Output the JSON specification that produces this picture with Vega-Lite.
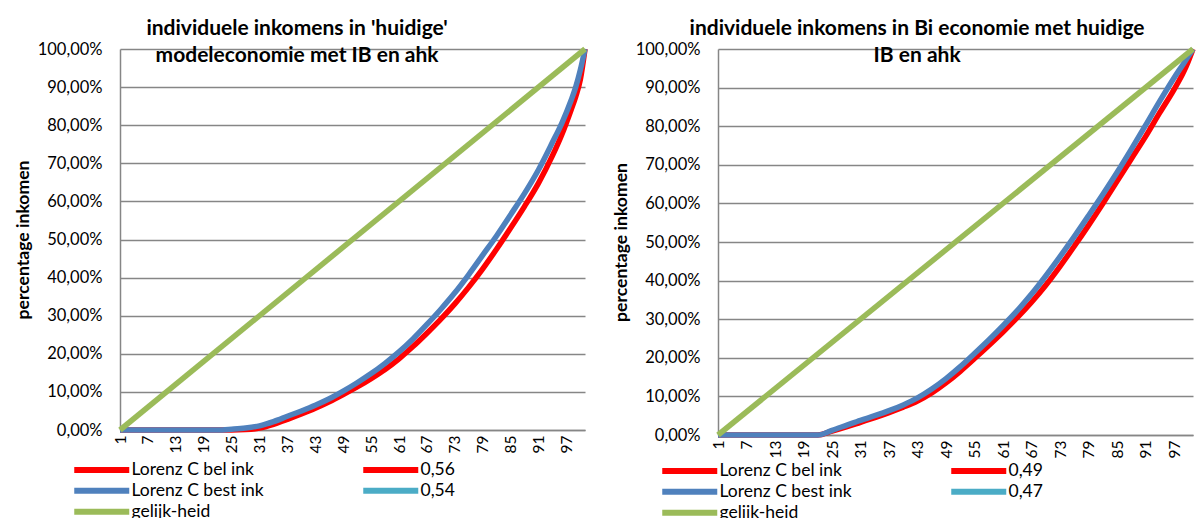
{
  "$schema": "https://vega.github.io/schema/vega-lite/v6.json",
  "padding": {"left": 14, "top": 18, "right": 5, "bottom": 0},
  "background": "#ffffff",
  "config": {
    "locale": {"number": {"decimal": ",", "thousands": ".", "grouping": [3], "currency": ["€ ", ""]}},
    "font": "Lato",
    "view": {"stroke": null},
    "axis": {"labelFont": "Lato", "labelFontSize": 16.5, "labelColor": "#000000", "domainColor": "#868686", "domainWidth": 1.5, "ticks": false, "tickSize": 0, "titleFont": "Lato", "titleFontSize": 17.6, "titleFontWeight": "bold", "titleColor": "#000000"},
    "axisY": {"grid": true, "gridColor": "#868686", "gridWidth": 1.5, "labelPadding": 18, "titlePadding": 5},
    "axisX": {"grid": false, "labelAngle": -90, "labelPadding": 5, "labelFontSize": 15.5},
    "title": {"font": "Lato", "fontSize": 21, "fontWeight": "bold", "color": "#000000", "anchor": "middle", "frame": "bounds", "offset": -28, "lineHeight": 27},
    "legend": {"orient": "none", "columns": 2, "columnPadding": 87, "rowPadding": -4, "symbolType": "M-5,0H5", "symbolSize": 121, "symbolStrokeWidth": 6, "labelFont": "Lato", "labelFontSize": 17.5, "labelColor": "#000000", "labelOffset": 21, "labelLimit": 300}
  },
  "datasets": {
    "links": [
      {"x": 1, "pct": 0, "serie": "Lorenz C bel ink"},
      {"x": 25, "pct": 0, "serie": "Lorenz C bel ink"},
      {"x": 28, "pct": 0.001, "serie": "Lorenz C bel ink"},
      {"x": 31, "pct": 0.005, "serie": "Lorenz C bel ink"},
      {"x": 34, "pct": 0.015, "serie": "Lorenz C bel ink"},
      {"x": 37, "pct": 0.028, "serie": "Lorenz C bel ink"},
      {"x": 40, "pct": 0.042, "serie": "Lorenz C bel ink"},
      {"x": 43, "pct": 0.057, "serie": "Lorenz C bel ink"},
      {"x": 46, "pct": 0.074, "serie": "Lorenz C bel ink"},
      {"x": 49, "pct": 0.093, "serie": "Lorenz C bel ink"},
      {"x": 52, "pct": 0.113, "serie": "Lorenz C bel ink"},
      {"x": 55, "pct": 0.135, "serie": "Lorenz C bel ink"},
      {"x": 58, "pct": 0.159, "serie": "Lorenz C bel ink"},
      {"x": 61, "pct": 0.187, "serie": "Lorenz C bel ink"},
      {"x": 64, "pct": 0.219, "serie": "Lorenz C bel ink"},
      {"x": 67, "pct": 0.254, "serie": "Lorenz C bel ink"},
      {"x": 70, "pct": 0.291, "serie": "Lorenz C bel ink"},
      {"x": 73, "pct": 0.331, "serie": "Lorenz C bel ink"},
      {"x": 76, "pct": 0.375, "serie": "Lorenz C bel ink"},
      {"x": 79, "pct": 0.423, "serie": "Lorenz C bel ink"},
      {"x": 82, "pct": 0.475, "serie": "Lorenz C bel ink"},
      {"x": 85, "pct": 0.53, "serie": "Lorenz C bel ink"},
      {"x": 88, "pct": 0.587, "serie": "Lorenz C bel ink"},
      {"x": 91, "pct": 0.648, "serie": "Lorenz C bel ink"},
      {"x": 94, "pct": 0.72, "serie": "Lorenz C bel ink"},
      {"x": 96, "pct": 0.775, "serie": "Lorenz C bel ink"},
      {"x": 98, "pct": 0.84, "serie": "Lorenz C bel ink"},
      {"x": 99, "pct": 0.875, "serie": "Lorenz C bel ink"},
      {"x": 100, "pct": 0.92, "serie": "Lorenz C bel ink"},
      {"x": 101, "pct": 1, "serie": "Lorenz C bel ink"},
      {"x": 1, "pct": 0, "serie": "Lorenz C best ink"},
      {"x": 22, "pct": 0, "serie": "Lorenz C best ink"},
      {"x": 25, "pct": 0.002, "serie": "Lorenz C best ink"},
      {"x": 28, "pct": 0.005, "serie": "Lorenz C best ink"},
      {"x": 31, "pct": 0.011, "serie": "Lorenz C best ink"},
      {"x": 34, "pct": 0.022, "serie": "Lorenz C best ink"},
      {"x": 37, "pct": 0.036, "serie": "Lorenz C best ink"},
      {"x": 40, "pct": 0.05, "serie": "Lorenz C best ink"},
      {"x": 43, "pct": 0.065, "serie": "Lorenz C best ink"},
      {"x": 46, "pct": 0.082, "serie": "Lorenz C best ink"},
      {"x": 49, "pct": 0.102, "serie": "Lorenz C best ink"},
      {"x": 52, "pct": 0.124, "serie": "Lorenz C best ink"},
      {"x": 55, "pct": 0.148, "serie": "Lorenz C best ink"},
      {"x": 58, "pct": 0.175, "serie": "Lorenz C best ink"},
      {"x": 61, "pct": 0.205, "serie": "Lorenz C best ink"},
      {"x": 64, "pct": 0.239, "serie": "Lorenz C best ink"},
      {"x": 67, "pct": 0.277, "serie": "Lorenz C best ink"},
      {"x": 70, "pct": 0.317, "serie": "Lorenz C best ink"},
      {"x": 73, "pct": 0.36, "serie": "Lorenz C best ink"},
      {"x": 76, "pct": 0.408, "serie": "Lorenz C best ink"},
      {"x": 79, "pct": 0.459, "serie": "Lorenz C best ink"},
      {"x": 82, "pct": 0.51, "serie": "Lorenz C best ink"},
      {"x": 85, "pct": 0.565, "serie": "Lorenz C best ink"},
      {"x": 88, "pct": 0.621, "serie": "Lorenz C best ink"},
      {"x": 91, "pct": 0.683, "serie": "Lorenz C best ink"},
      {"x": 94, "pct": 0.755, "serie": "Lorenz C best ink"},
      {"x": 96, "pct": 0.805, "serie": "Lorenz C best ink"},
      {"x": 98, "pct": 0.865, "serie": "Lorenz C best ink"},
      {"x": 99, "pct": 0.9, "serie": "Lorenz C best ink"},
      {"x": 100, "pct": 0.945, "serie": "Lorenz C best ink"},
      {"x": 101, "pct": 1, "serie": "Lorenz C best ink"},
      {"x": 1, "pct": 0, "serie": "gelijk-heid"},
      {"x": 101, "pct": 1, "serie": "gelijk-heid"}
    ],
    "rechts": [
      {"x": 1, "pct": 0, "serie": "Lorenz C bel ink"},
      {"x": 22, "pct": 0, "serie": "Lorenz C bel ink"},
      {"x": 25, "pct": 0.01, "serie": "Lorenz C bel ink"},
      {"x": 28, "pct": 0.021, "serie": "Lorenz C bel ink"},
      {"x": 31, "pct": 0.033, "serie": "Lorenz C bel ink"},
      {"x": 34, "pct": 0.045, "serie": "Lorenz C bel ink"},
      {"x": 37, "pct": 0.058, "serie": "Lorenz C bel ink"},
      {"x": 40, "pct": 0.072, "serie": "Lorenz C bel ink"},
      {"x": 43, "pct": 0.088, "serie": "Lorenz C bel ink"},
      {"x": 46, "pct": 0.109, "serie": "Lorenz C bel ink"},
      {"x": 49, "pct": 0.135, "serie": "Lorenz C bel ink"},
      {"x": 52, "pct": 0.165, "serie": "Lorenz C bel ink"},
      {"x": 55, "pct": 0.198, "serie": "Lorenz C bel ink"},
      {"x": 58, "pct": 0.232, "serie": "Lorenz C bel ink"},
      {"x": 61, "pct": 0.267, "serie": "Lorenz C bel ink"},
      {"x": 64, "pct": 0.304, "serie": "Lorenz C bel ink"},
      {"x": 67, "pct": 0.344, "serie": "Lorenz C bel ink"},
      {"x": 70, "pct": 0.388, "serie": "Lorenz C bel ink"},
      {"x": 73, "pct": 0.437, "serie": "Lorenz C bel ink"},
      {"x": 76, "pct": 0.489, "serie": "Lorenz C bel ink"},
      {"x": 79, "pct": 0.543, "serie": "Lorenz C bel ink"},
      {"x": 82, "pct": 0.599, "serie": "Lorenz C bel ink"},
      {"x": 85, "pct": 0.657, "serie": "Lorenz C bel ink"},
      {"x": 88, "pct": 0.715, "serie": "Lorenz C bel ink"},
      {"x": 91, "pct": 0.773, "serie": "Lorenz C bel ink"},
      {"x": 94, "pct": 0.835, "serie": "Lorenz C bel ink"},
      {"x": 97, "pct": 0.895, "serie": "Lorenz C bel ink"},
      {"x": 99, "pct": 0.94, "serie": "Lorenz C bel ink"},
      {"x": 100, "pct": 0.968, "serie": "Lorenz C bel ink"},
      {"x": 101, "pct": 1, "serie": "Lorenz C bel ink"},
      {"x": 1, "pct": 0, "serie": "Lorenz C best ink"},
      {"x": 22, "pct": 0, "serie": "Lorenz C best ink"},
      {"x": 25, "pct": 0.012, "serie": "Lorenz C best ink"},
      {"x": 28, "pct": 0.025, "serie": "Lorenz C best ink"},
      {"x": 31, "pct": 0.038, "serie": "Lorenz C best ink"},
      {"x": 34, "pct": 0.05, "serie": "Lorenz C best ink"},
      {"x": 37, "pct": 0.063, "serie": "Lorenz C best ink"},
      {"x": 40, "pct": 0.078, "serie": "Lorenz C best ink"},
      {"x": 43, "pct": 0.096, "serie": "Lorenz C best ink"},
      {"x": 46, "pct": 0.119, "serie": "Lorenz C best ink"},
      {"x": 49, "pct": 0.146, "serie": "Lorenz C best ink"},
      {"x": 52, "pct": 0.177, "serie": "Lorenz C best ink"},
      {"x": 55, "pct": 0.211, "serie": "Lorenz C best ink"},
      {"x": 58, "pct": 0.246, "serie": "Lorenz C best ink"},
      {"x": 61, "pct": 0.283, "serie": "Lorenz C best ink"},
      {"x": 64, "pct": 0.322, "serie": "Lorenz C best ink"},
      {"x": 67, "pct": 0.365, "serie": "Lorenz C best ink"},
      {"x": 70, "pct": 0.412, "serie": "Lorenz C best ink"},
      {"x": 73, "pct": 0.462, "serie": "Lorenz C best ink"},
      {"x": 76, "pct": 0.514, "serie": "Lorenz C best ink"},
      {"x": 79, "pct": 0.568, "serie": "Lorenz C best ink"},
      {"x": 82, "pct": 0.623, "serie": "Lorenz C best ink"},
      {"x": 85, "pct": 0.68, "serie": "Lorenz C best ink"},
      {"x": 88, "pct": 0.74, "serie": "Lorenz C best ink"},
      {"x": 91, "pct": 0.802, "serie": "Lorenz C best ink"},
      {"x": 94, "pct": 0.865, "serie": "Lorenz C best ink"},
      {"x": 97, "pct": 0.925, "serie": "Lorenz C best ink"},
      {"x": 99, "pct": 0.962, "serie": "Lorenz C best ink"},
      {"x": 100, "pct": 0.981, "serie": "Lorenz C best ink"},
      {"x": 101, "pct": 1, "serie": "Lorenz C best ink"},
      {"x": 1, "pct": 0, "serie": "gelijk-heid"},
      {"x": 101, "pct": 1, "serie": "gelijk-heid"}
    ]
  },
  "hconcat": [
    {
      "width": 465,
      "height": 381,
      "title": {"text": ["individuele inkomens in 'huidige'", "modeleconomie met IB en ahk"], "dx": -8},
      "data": {"name": "links"},
      "mark": {"type": "line", "strokeWidth": 5.5, "interpolate": "monotone", "clip": false},
      "encoding": {
        "x": {"field": "x", "type": "quantitative", "title": null, "scale": {"domain": [1, 101], "nice": false, "zero": false}, "axis": {"values": [1, 7, 13, 19, 25, 31, 37, 43, 49, 55, 61, 67, 73, 79, 85, 91, 97]}},
        "y": {"field": "pct", "type": "quantitative", "title": "percentage inkomen", "scale": {"domain": [0, 1], "nice": false}, "axis": {"values": [0, 0.1, 0.2, 0.3, 0.4, 0.5, 0.6, 0.7, 0.8, 0.9, 1], "format": ".2%"}},
        "color": {"field": "serie", "type": "nominal", "scale": {"domain": ["Lorenz C bel ink", "Lorenz C best ink", "gelijk-heid", "0,56", "0,54"], "range": ["#FF0000", "#4F81BD", "#9BBB59", "#FF0000", "#4BACC6"]}, "legend": {"title": null, "legendX": -27, "legendY": 412}}
      }
    },
    {
      "width": 475,
      "height": 386,
      "title": {"text": ["individuele inkomens in Bi economie met huidige", "IB en ahk"], "dx": 9},
      "data": {"name": "rechts"},
      "mark": {"type": "line", "strokeWidth": 5.5, "interpolate": "monotone", "clip": false},
      "encoding": {
        "x": {"field": "x", "type": "quantitative", "title": null, "scale": {"domain": [1, 101], "nice": false, "zero": false}, "axis": {"values": [1, 7, 13, 19, 25, 31, 37, 43, 49, 55, 61, 67, 73, 79, 85, 91, 97]}},
        "y": {"field": "pct", "type": "quantitative", "title": "percentage inkomen", "scale": {"domain": [0, 1], "nice": false}, "axis": {"values": [0, 0.1, 0.2, 0.3, 0.4, 0.5, 0.6, 0.7, 0.8, 0.9, 1], "format": ".2%"}},
        "color": {"field": "serie", "type": "nominal", "scale": {"domain": ["Lorenz C bel ink", "Lorenz C best ink", "gelijk-heid", "0,49", "0,47"], "range": ["#FF0000", "#4F81BD", "#9BBB59", "#FF0000", "#4BACC6"]}, "legend": {"title": null, "legendX": -37, "legendY": 413}}
      }
    }
  ],
  "spacing": 16,
  "resolve": {"scale": {"color": "independent", "x": "independent", "y": "independent"}, "legend": {"color": "independent"}}
}
